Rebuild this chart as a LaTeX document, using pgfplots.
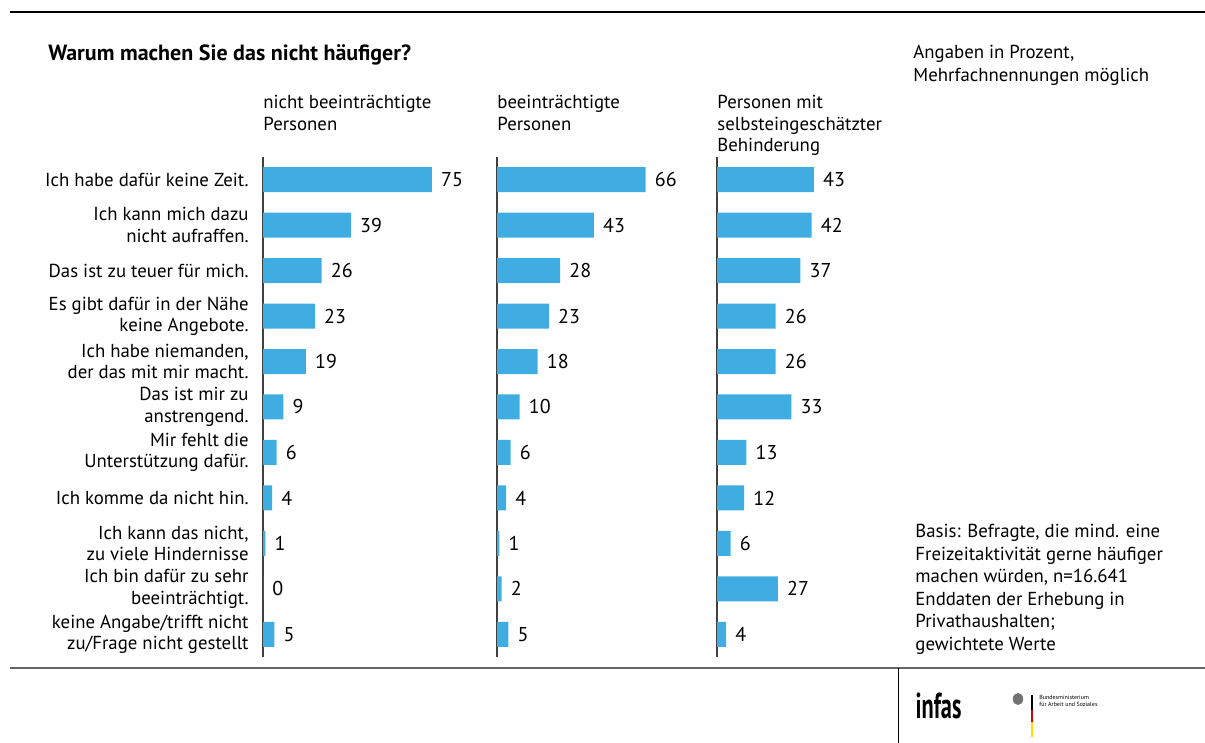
\documentclass[border=0pt]{standalone}
\usepackage{pgfplots}
\pgfplotsset{compat=1.18}
\usepackage{fontspec}
\setmainfont{PT Sans}
\definecolor{barblue}{RGB}{64,173,226}
\newcommand{\lbl}{\fontsize{9.4}{10.75}\selectfont}
\newcommand{\val}{\fontsize{10}{11}\selectfont}

\pgfplotsset{
  panel/.style={
    scale only axis, width=112.5pt, height=250pt,
    xmin=0, xmax=100, ymin=0.5, ymax=11.5, y dir=reverse,
    xbar, bar width=12.5pt,
    axis x line=none, axis y line=left,
    axis line style={-, line width=0.7pt, black!75},
    major tick length=0pt, ytick=\empty,
    nodes near coords,
    /pgf/number format/assume math mode=true,
    every node near coord/.append style={font=\val, anchor=west, inner sep=0pt, xshift=4.5pt},
    anchor=north west, clip=false,
  }
}

\begin{document}
\begin{tikzpicture}
\path[use as bounding box] (0,0) rectangle (602.5pt,371.5pt);

% rules
\draw[line width=0.75pt] (5pt,365.5pt) -- (602.5pt,365.5pt);
\draw[line width=0.6pt, black!60] (5pt,37.5pt) -- (602.5pt,37.5pt);
\draw[line width=0.5pt] (449pt,37.5pt) -- (449pt,0pt);

% titles
\node[anchor=west, inner sep=0pt, font=\fontsize{11}{12}\selectfont\bfseries] at (24pt,344pt) {Warum machen Sie das nicht häufiger?};
\node[anchor=north west, align=left, inner sep=0pt, font=\lbl] at (131.5pt,324pt) {nicht beeinträchtigte\\Personen};
\node[anchor=north west, align=left, inner sep=0pt, font=\lbl] at (248.5pt,324pt) {beeinträchtigte\\Personen};
\node[anchor=north west, align=left, inner sep=0pt, font=\lbl] at (358.5pt,324pt) {Personen mit\\selbsteingeschätzter\\Behinderung};
\node[anchor=north west, align=left, inner sep=0pt, font=\fontsize{9.4}{11.4}\selectfont] at (456.5pt,349pt) {Angaben in Prozent,\\Mehrfachnennungen möglich};
\node[anchor=north west, align=left, inner sep=0pt, font=\fontsize{9.4}{11.25}\selectfont] at (457.5pt,109.5pt) {Basis: Befragte, die mind. eine\\Freizeitaktivität gerne häufiger\\machen würden, n=16.641\\Enddaten der Erhebung in\\Privathaushalten;\\gewichtete Werte};

% panel 1
\begin{axis}[panel, at={(131.5pt,293pt)},
  ytick={1,...,11},
  yticklabels={{Ich habe dafür keine Zeit.},{Ich kann mich dazu\\nicht aufraffen.},{Das ist zu teuer für mich.},{Es gibt dafür in der Nähe\\keine Angebote.},{Ich habe niemanden,\\der das mit mir macht.},{Das ist mir zu\\anstrengend.},{Mir fehlt die\\Unterstützung dafür.},{Ich komme da nicht hin.},{Ich kann das nicht,\\zu viele Hindernisse},{Ich bin dafür zu sehr\\beeinträchtigt.},{keine Angabe/trifft nicht\\zu/Frage nicht gestellt}},
  yticklabel style={font=\lbl, align=right, inner sep=0pt, xshift=-7pt},
]
\addplot[fill=barblue, draw=none] coordinates {(75,1) (39,2) (26,3) (23,4) (19,5) (9,6) (6,7) (4,8) (1,9) (0,10) (5,11)};
\end{axis}

% panel 2
\begin{axis}[panel, at={(248.5pt,293pt)}]
\addplot[fill=barblue, draw=none] coordinates {(66,1) (43,2) (28,3) (23,4) (18,5) (10,6) (6,7) (4,8) (1,9) (2,10) (5,11)};
\end{axis}

% panel 3
\begin{axis}[panel, at={(358.5pt,293pt)}]
\addplot[fill=barblue, draw=none] coordinates {(43,1) (42,2) (37,3) (26,4) (26,5) (33,6) (13,7) (12,8) (6,9) (27,10) (4,11)};
\end{axis}

% logos
\node[inner sep=0pt, xscale=0.62, font=\fontsize{18}{18}\selectfont\bfseries] at (469.25pt,18.5pt) {infas};
\fill[black!55] (509pt,22pt) ellipse (2.6pt and 3pt);
\fill[black] (515.5pt,24pt) rectangle (516.5pt,16.5pt);
\fill[red!85!black] (515.5pt,16.5pt) rectangle (516.5pt,10.5pt);
\fill[yellow!80!orange] (515.5pt,10.5pt) rectangle (516.5pt,3pt);
\node[anchor=north west, align=left, inner sep=0pt, font=\fontsize{3}{3.4}\selectfont] at (519.5pt,24pt) {Bundesministerium\\für Arbeit und Soziales};
\end{tikzpicture}
\end{document}
